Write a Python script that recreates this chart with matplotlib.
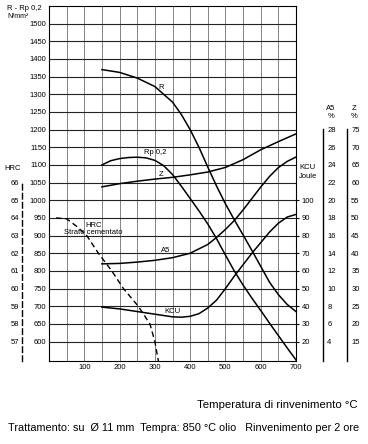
import numpy as np
import matplotlib
matplotlib.use('Agg')
import matplotlib.pyplot as plt

plt.rcParams['font.family'] = ['Liberation Sans', 'DejaVu Sans']

# curves, x = tempering temperature (°C)
r_temp = [150, 200, 250, 300, 350, 375, 400, 425, 450, 475, 500, 525, 550, 575, 600, 625, 650, 675, 700]
r_vals = [1370, 1362, 1346, 1322, 1278, 1243, 1200, 1150, 1094, 1040, 990, 945, 902, 858, 813, 768, 733, 705, 685]

rp_temp = [150, 175, 200, 225, 250, 275, 300, 325, 350, 375, 400, 425, 450, 475, 500, 525, 550, 575, 600, 625, 650, 675, 700]
rp_vals = [1100, 1112, 1118, 1121, 1122, 1120, 1113, 1098, 1073, 1040, 1005, 970, 933, 891, 845, 800, 760, 723, 688, 652, 617, 582, 548]

kcu_temp = [150, 200, 250, 300, 350, 375, 400, 425, 450, 475, 500, 525, 550, 575, 600, 625, 650, 675, 700]
kcu_vals = [39.5, 38.5, 37, 35.5, 34, 33.8, 34.3, 35.8, 39, 43.5, 50, 57, 63.5, 70, 76, 82, 87, 90.5, 92]

a5_temp = [150, 200, 250, 300, 350, 400, 450, 475, 500, 525, 550, 575, 600, 625, 650, 675, 700]
a5_vals = [12.8, 12.85, 13.0, 13.2, 13.5, 14.0, 15.0, 15.8, 16.7, 17.7, 18.9, 20.2, 21.5, 22.7, 23.7, 24.4, 24.9]

z_temp = [150, 200, 250, 300, 350, 400, 450, 500, 550, 600, 650, 700]
z_vals = [58.8, 59.7, 60.4, 61.0, 61.5, 62.2, 63.0, 64.3, 66.5, 69.3, 71.6, 73.8]

hrc_temp = [20, 50, 80, 107, 140, 178, 211, 253, 286, 300, 310]
hrc_vals = [64.0, 63.95, 63.5, 63.0, 62.0, 61.0, 60.0, 59.0, 58.0, 57.0, 55.9]

x_ticks = [100, 200, 300, 400, 500, 600, 700]
r_ticks = list(range(600, 1501, 50))
kcu_ticks = list(range(20, 101, 10))
a5_ticks = list(range(4, 29, 2))
z_ticks = list(range(15, 76, 5))
hrc_ticks = list(range(57, 67))

LO, HI = 545, 1550
W, H = 368, 444
FS = 5.5

fig = plt.figure(figsize=(W / 100, H / 100), dpi=100)
ax = fig.add_axes([49 / W, 1 - 361 / H, (296 - 49) / W, (361 - 6) / H])
ax.set_xlim(0, 700)
ax.set_ylim(LO, HI)
ax.set_xticks(x_ticks)
ax.set_xticks(np.arange(50, 700, 100), minor=True)
ax.set_yticks(r_ticks)
ax.grid(axis='x', which='both', color='#555555', lw=0.5)
ax.grid(axis='y', color='#222222', lw=0.8)
ax.tick_params(which='both', length=0, labelsize=FS, pad=2)
for s in ax.spines.values():
    s.set_linewidth(0.8)

ax.plot(r_temp, r_vals, color='k', lw=1.1)
ax.plot(rp_temp, rp_vals, color='k', lw=1.1)


def side_axis(lo, hi, ticks, pos=None, side='right', pad=3, length=0):
    t = ax.twinx()
    t.set_ylim(lo, hi)
    t.set_yticks(ticks)
    for s in t.spines.values():
        s.set_visible(False)
    if pos is not None:
        sp = t.spines[side]
        sp.set_visible(True)
        sp.set_position(('axes', pos))
        sp.set_bounds(lo, ticks[-1] + 0.05 * (ticks[1] - ticks[0]))
        sp.set_linewidth(1.0)
    if side == 'left':
        t.yaxis.tick_left()
    t.tick_params(axis='y', length=length, pad=pad, labelsize=FS)
    return t


# scales that sit next to the N/mm² axis
ax_k = side_axis((LO - 500) / 5, (HI - 500) / 5, kcu_ticks, pad=1.5, length=2.5)
ax_a = side_axis(4 + (LO - 600) / 25, 4 + (HI - 600) / 25, a5_ticks, pos=(323 - 49) / 247)
ax_z = side_axis(15 + (LO - 600) / 10, 15 + (HI - 600) / 10, z_ticks, pos=(347 - 49) / 247)
ax_h = side_axis(57 + (LO - 600) / 50, 57 + (HI - 600) / 50, hrc_ticks, pos=(22 - 49) / 247,
                 side='left', pad=2)
ax_h.spines['left'].set_linestyle((0, (4, 2.5)))

ax_k.plot(kcu_temp, kcu_vals, color='k', lw=1.1)
ax_a.plot(a5_temp, a5_vals, color='k', lw=1.1)
ax_z.plot(z_temp, z_vals, color='k', lw=1.1)
ax_h.plot(hrc_temp, hrc_vals, color='k', lw=1.0, dashes=(4, 2.5))

# curve labels
ax.text(317, 1319, 'R', fontsize=FS, ha='center', va='center')
ax.text(301, 1134, 'Rp 0,2', fontsize=FS, ha='center', va='center')
ax.text(317, 1074, 'Z', fontsize=FS, ha='center', va='center')
ax.text(331, 859, 'A5', fontsize=FS, ha='center', va='center')
ax.text(350, 686, 'KCU', fontsize=FS, ha='center', va='center')
ax.text(126, 930, 'HRC', fontsize=FS, ha='center', va='center')
ax.text(126, 908, 'Strato cementato', fontsize=FS, ha='center', va='center')

# axis titles
fig.text(7 / W, 1 - 9 / H, 'R - Rp 0,2', fontsize=FS, va='center')
fig.text(7 / W, 1 - 16 / H, 'N/mm²', fontsize=5, va='center')
fig.text(13 / W, 1 - 168 / H, 'HRC', fontsize=FS, ha='center', va='center')
fig.text(299 / W, 1 - 167 / H, 'KCU', fontsize=FS, va='center')
fig.text(299 / W, 1 - 176 / H, 'Joule', fontsize=FS, va='center')
fig.text(331 / W, 1 - 108 / H, 'A5', fontsize=FS, ha='center', va='center')
fig.text(331 / W, 1 - 117 / H, '%', fontsize=FS, ha='center', va='center')
fig.text(354 / W, 1 - 108 / H, 'Z', fontsize=FS, ha='center', va='center')
fig.text(354 / W, 1 - 117 / H, '%', fontsize=FS, ha='center', va='center')

fig.text(358 / W, 1 - 405 / H, 'Temperatura di rinvenimento °C', fontsize=8.2,
         ha='right', va='center')
fig.text(8 / W, 1 - 428 / H,
         'Trattamento: su  Ø 11 mm  Tempra: 850 °C olio   Rinvenimento per 2 ore',
         fontsize=7.8, ha='left', va='center')

fig.savefig('out.png', dpi=100)
